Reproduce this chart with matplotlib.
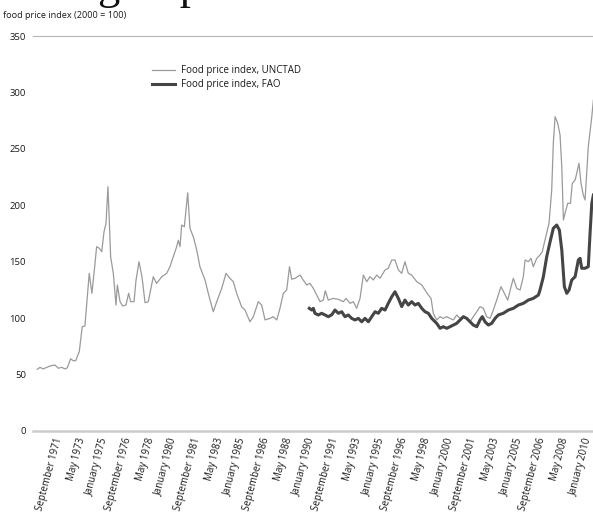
import matplotlib
matplotlib.use("Agg")
import matplotlib.pyplot as plt
import numpy as np

plt.rcParams['font.family'] = ['Open Sans', 'DejaVu Sans']

# ---- data (decimal years, index 2000 = 100) ----
unctad_year = [1969.67, 1969.87, 1970.11, 1970.61, 1970.98, 1971.23, 1971.48, 1971.73, 1971.90, 1972.15,
               1972.34, 1972.52, 1972.79, 1973.01, 1973.21, 1973.39, 1973.53, 1973.73, 1973.91, 1974.08,
               1974.28, 1974.46, 1974.63, 1974.78, 1974.92, 1975.02, 1975.12, 1975.32, 1975.52, 1975.62,
               1975.82, 1976.02, 1976.26, 1976.46, 1976.61, 1976.86, 1977.01, 1977.23, 1977.45, 1977.68,
               1977.92, 1978.29, 1978.54, 1978.92, 1979.29, 1979.53, 1980.03, 1980.15, 1980.28, 1980.40,
               1980.60, 1980.85, 1981.02, 1981.27, 1981.52, 1981.76, 1982.14, 1982.38, 1982.75, 1983.01,
               1983.38, 1983.70, 1983.99, 1984.24, 1984.49, 1984.86, 1985.11, 1985.48, 1985.73, 1986.10,
               1986.35, 1986.60, 1986.97, 1987.21, 1987.47, 1987.71, 1987.96, 1988.21, 1988.42, 1988.58,
               1988.83, 1989.20, 1989.44, 1989.70, 1989.94, 1990.19, 1990.44, 1990.69, 1990.93, 1991.08,
               1991.30, 1991.68, 1992.05, 1992.42, 1992.62, 1992.92, 1993.16, 1993.41, 1993.66, 1993.91,
               1994.16, 1994.40, 1994.65, 1994.90, 1995.15, 1995.52, 1995.76, 1996.02, 1996.26, 1996.51,
               1996.76, 1997.00, 1997.25, 1997.50, 1997.88, 1998.25, 1998.49, 1998.74, 1998.94, 1999.11,
               1999.36, 1999.61, 1999.85, 2000.11, 2000.35, 2000.60, 2000.85, 2001.10, 2001.34, 2001.59,
               2001.84, 2002.08, 2002.34, 2002.58, 2002.83, 2003.08, 2003.33, 2003.57, 2003.82, 2004.14,
               2004.39, 2004.64, 2004.89, 2005.06, 2005.31, 2005.56, 2005.80, 2005.93, 2006.17, 2006.37,
               2006.54, 2006.80, 2007.04, 2007.21, 2007.41, 2007.71, 2007.91, 2008.03, 2008.16, 2008.36,
               2008.53, 2008.66, 2008.78, 2008.90, 2009.10, 2009.30, 2009.44, 2009.65, 2009.77, 2009.94,
               2010.09, 2010.26, 2010.39, 2010.63, 2010.89, 2011.01]
unctad_val = [54.7, 56.4, 55.0, 57.6, 58.5, 55.6, 56.4, 55.0, 56.0, 64.0,
              62.3, 62.3, 70.3, 92.4, 93.0, 119.0, 139.7, 122.0, 142.7, 163.3,
              161.9, 158.9, 176.6, 184.0, 216.5, 187.0, 154.5, 139.7, 111.6, 129.4,
              114.6, 110.8, 111.6, 122.0, 114.6, 114.6, 133.8, 150.0, 136.7, 113.7,
              114.6, 136.7, 130.8, 136.7, 139.7, 145.6, 163.3, 169.0, 163.3, 182.5,
              181.0, 211.0, 179.6, 172.0, 160.4, 145.6, 133.8, 122.0, 105.7, 114.6,
              126.4, 139.7, 135.3, 132.3, 122.0, 110.0, 107.2, 96.8, 101.3, 114.6,
              111.6, 98.4, 99.8, 101.3, 98.4, 108.7, 122.0, 125.0, 145.6, 134.5,
              135.3, 138.2, 133.8, 129.4, 130.8, 126.4, 120.5, 114.6, 116.0, 124.3,
              116.0, 117.5, 116.7, 114.6, 117.5, 113.1, 114.6, 108.7, 117.5, 138.2,
              132.3, 136.7, 133.8, 138.2, 135.3, 142.7, 144.2, 151.5, 151.5, 142.7,
              139.7, 150.0, 139.7, 138.2, 132.3, 129.4, 124.9, 120.5, 117.5, 104.3,
              98.4, 101.3, 99.8, 101.3, 99.8, 98.4, 102.8, 99.8, 101.3, 99.8,
              96.8, 101.3, 105.7, 110.2, 108.7, 101.3, 99.8, 107.2, 116.0, 127.9,
              122.0, 116.0, 127.9, 135.3, 126.4, 124.9, 136.7, 151.5, 150.0, 153.0,
              145.6, 153.0, 156.0, 158.9, 169.2, 184.0, 213.5, 254.9, 278.5, 272.6,
              262.3, 234.2, 187.0, 192.8, 201.7, 201.7, 219.4, 222.4, 228.3, 237.2,
              219.4, 209.1, 204.7, 251.9, 278.5, 293.3]

fao_year = [1989.89, 1990.07, 1990.19, 1990.31, 1990.56, 1990.81, 1991.06, 1991.30, 1991.56, 1991.80,
            1992.05, 1992.30, 1992.54, 1992.79, 1993.04, 1993.29, 1993.53, 1993.79, 1994.03, 1994.28,
            1994.53, 1994.78, 1995.02, 1995.27, 1995.52, 1995.76, 1996.02, 1996.26, 1996.51, 1996.76,
            1997.00, 1997.25, 1997.50, 1997.75, 1997.99, 1998.25, 1998.49, 1998.74, 1998.99, 1999.36,
            1999.61, 1999.85, 2000.11, 2000.35, 2000.60, 2000.85, 2001.10, 2001.34, 2001.59, 2001.84,
            2002.08, 2002.34, 2002.58, 2002.75, 2002.95, 2003.20, 2003.45, 2003.70, 2003.94, 2004.31,
            2004.69, 2005.06, 2005.43, 2005.80, 2006.17, 2006.54, 2006.92, 2007.04, 2007.29, 2007.54,
            2007.79, 2008.03, 2008.28, 2008.48, 2008.66, 2008.85, 2009.03, 2009.20, 2009.40, 2009.65,
            2009.89, 2010.02, 2010.14, 2010.39, 2010.63, 2010.76, 2010.89, 2011.01]
fao_val = [108.7, 107.2, 108.7, 104.3, 102.8, 104.3, 102.8, 101.3, 103.0, 107.2,
           104.3, 105.7, 101.3, 102.8, 99.8, 98.4, 99.8, 96.8, 99.8, 96.8,
           101.3, 105.7, 104.3, 108.7, 107.2, 113.1, 119.0, 123.4, 117.5, 110.2,
           116.0, 111.6, 114.6, 111.6, 113.1, 108.7, 105.7, 104.3, 99.8, 95.4,
           91.0, 92.4, 91.0, 92.4, 93.9, 95.4, 98.4, 101.3, 99.8, 96.8,
           93.9, 92.4, 98.4, 101.3, 96.8, 93.9, 95.4, 99.8, 102.8, 104.3,
           107.2, 108.7, 111.6, 113.1, 116.0, 117.5, 120.5, 124.9, 136.7, 154.5,
           167.7, 179.6, 182.5, 178.1, 160.4, 127.9, 122.0, 124.9, 133.8, 136.7,
           151.5, 153.0, 144.2, 144.2, 145.6, 175.0, 201.7, 209.1]

tick_labels = ["September 1971", "May 1973", "January 1975", "September 1976", "May 1978",
               "January 1980", "September 1981", "May 1983", "January 1985", "September 1986",
               "May 1988", "January 1990", "September 1991", "May 1993", "January 1995",
               "September 1996", "May 1998", "January 2000", "September 2001", "May 2003",
               "January 2005", "September 2006", "May 2008", "January 2010"]
y_ticks = [0, 50, 100, 150, 200, 250, 300, 350]

W, H = 593, 515
fig = plt.figure(figsize=(W / 100, H / 100), dpi=100)
ax = fig.add_axes([33 / W, 84 / H, 560 / W, 395 / H])

ax.plot(unctad_year, unctad_val, color='#9a9a9a', lw=0.9, label='Food price index, UNCTAD')
ax.plot(fao_year, fao_val, color='#454545', lw=2.2, label='Food price index, FAO')

ax.set_xlim(1969.35, 2010.98)
ax.set_ylim(0, 350)

for s in ['left', 'right', 'top']:
    ax.spines[s].set_visible(False)
ax.spines['bottom'].set_color('#cccccc')
ax.spines['bottom'].set_linewidth(1.8)
ax.axhline(350, color='#b5b5b5', lw=0.8, clip_on=False)

ax.set_yticks(y_ticks)
ax.set_yticklabels([str(v) for v in y_ticks])
ax.tick_params(axis='y', length=0, pad=5, labelsize=6.8, labelcolor='#1a1a1a')

tick_pos = np.linspace(1970.91, 2010.25, len(tick_labels))
ax.set_xticks(tick_pos)
ax.set_xticklabels(tick_labels, rotation=75, ha='right', va='top', rotation_mode='anchor')
ax.tick_params(axis='x', length=0, pad=4, labelsize=7.0, labelcolor='#1a1a1a')

fig.text(3 / W, 1 - 15 / H, 'food price index (2000 = 100)', fontsize=6.6, color='#1a1a1a',
         ha='left', va='center')

leg = ax.legend(loc='upper left', bbox_to_anchor=(152 / W, 1 - 65 / H),
                bbox_transform=fig.transFigure, frameon=False, fontsize=7,
                handlelength=2.4, handletextpad=0.6, labelspacing=0.35,
                borderpad=0, borderaxespad=0)
for t in leg.get_texts():
    t.set_color('#1a1a1a')

# cut-off page heading above the chart
fig.text(-18 / W, 1 + 1 / H, 'Making of prices', fontsize=32, family='Liberation Serif',
         ha='left', va='baseline', color='#111111')

fig.savefig('out.png', dpi=100)
